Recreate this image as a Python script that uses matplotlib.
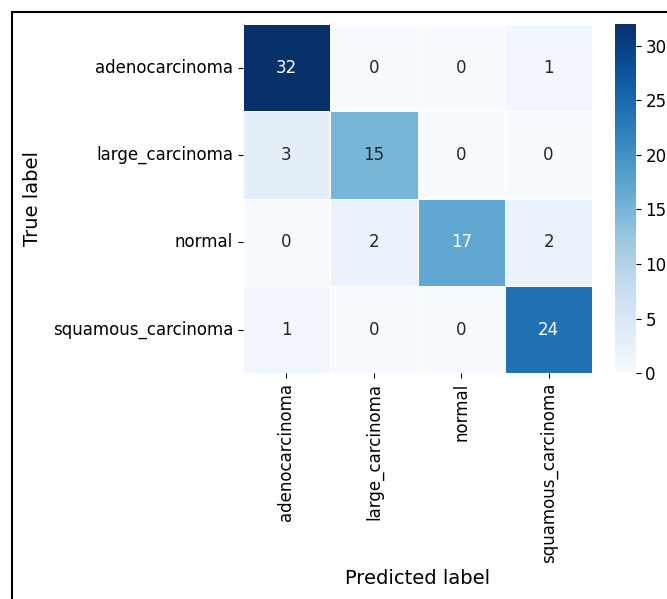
import numpy as np
import matplotlib
matplotlib.use("Agg")
import matplotlib.pyplot as plt
import seaborn as sns
from matplotlib.patches import Rectangle

classes = ["adenocarcinoma", "large_carcinoma", "normal", "squamous_carcinoma"]
row_adeno = [32, 0, 0, 1]
row_large = [3, 15, 0, 0]
row_normal = [0, 2, 17, 2]
row_squam = [1, 0, 0, 24]

cm = np.array([row_adeno, row_large, row_normal, row_squam])

fig = plt.figure(figsize=(6.67, 5.99), dpi=100)
ax = fig.add_axes([0.364, 0.377, 0.524, 0.583])
cax = fig.add_axes([0.922, 0.377, 0.031, 0.583])

sns.heatmap(cm, annot=True, fmt="d", cmap="Blues", linewidths=0.5, linecolor="white",
            xticklabels=classes, yticklabels=classes, ax=ax, cbar_ax=cax,
            annot_kws={"fontsize": 12})
ax.set_xlabel("Predicted label", fontsize=14)
ax.set_ylabel("True label", fontsize=14, labelpad=8)
ax.tick_params(axis="both", labelsize=12)
plt.setp(ax.get_xticklabels(), rotation=90)
plt.setp(ax.get_yticklabels(), rotation=0)
cax.tick_params(labelsize=12)
for sp in cax.spines.values():
    sp.set_visible(False)

# frame around the figure (right and bottom edges fall outside the canvas)
fig.patches.append(Rectangle((12 / 667, -0.1), 1.2, 1 - 12 / 599 + 0.1,
                             transform=fig.transFigure, fill=False,
                             edgecolor="black", linewidth=1.5, zorder=10))

fig.savefig("out.png", dpi=100)
